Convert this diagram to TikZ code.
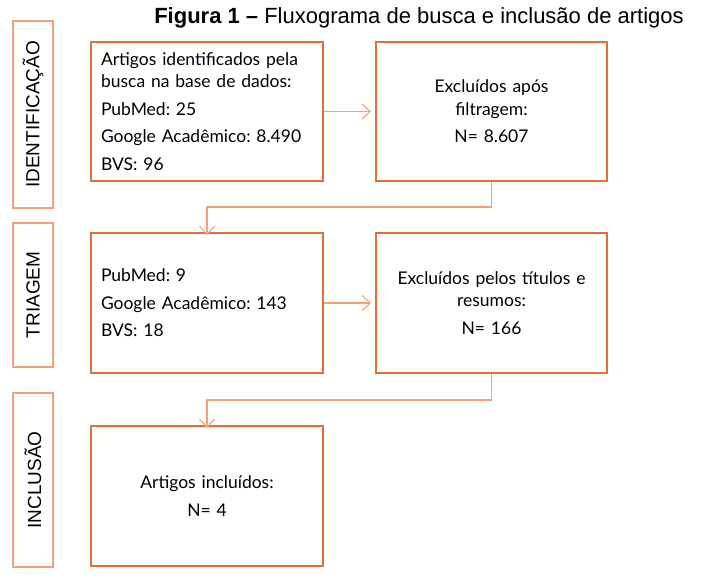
\documentclass[tikz,border=0pt]{standalone}
\usepackage{fontspec}
\setmainfont{Liberation Sans}
\newfontfamily\boxfont{Lato}
\usetikzlibrary{arrows.meta}
\definecolor{dark}{HTML}{E07035}
\definecolor{light}{HTML}{F4A07A}
\tikzset{
  mainbox/.style={draw=dark, line width=2pt, minimum width=232pt, minimum height=139pt, inner sep=0pt, font=\boxfont\frenchspacing\fontsize{17.5}{22.5}\selectfont},
  leftbox/.style={mainbox, align=left, text width=212pt},
  centerbox/.style={mainbox, align=center, text width=215pt},
  lblbox/.style={draw=light, line width=1.3pt, minimum width=40pt, inner sep=0pt},
  lbltext/.style={rotate=90, font=\fontsize{19}{22}\selectfont},
  conn/.style={draw=light, line width=1.3pt, -{Straight Barb[length=8pt,width=15pt,line width=1.1pt]}},
}
\begin{document}
\begin{tikzpicture}[x=1pt,y=-1pt]
\useasboundingbox (0,0) rectangle (703,585);
\node (title) at (419,18) {\fontsize{22}{24}\selectfont\textbf{Figura 1 –} Fluxograma de busca e inclusão de artigos};
% stage labels
\node[lblbox, minimum height=187pt] (l1) at (33,114.5) {};
\node[lbltext] (t1) at (l1.center) {IDENTIFICAÇÃO};
\node[lblbox, minimum height=144pt] (l2) at (33,295) {};
\node[lbltext] (t2) at (l2.center) {TRIAGEM};
\node[lblbox, minimum height=174pt] (l3) at (33,480) {};
\node[lbltext] (t3) at (l3.center) {INCLUSÃO};
% boxes
\node[leftbox] (b1) at (207,111.5) {Artigos identificados pela\\busca na base de dados:\\[5pt]PubMed: 25\\[5pt]Google Acadêmico: 8.490\\[5pt]BVS: 96};
\node[centerbox, minimum width=231pt] (b2) at (491.5,111.5) {Excluídos após\\filtragem:\\[5pt]N= 8.607};
\node[leftbox, minimum height=140pt] (b3) at (207,303) {PubMed: 9\\[5pt]Google Acadêmico: 143\\[5pt]BVS: 18};
\node[centerbox, minimum width=231pt, minimum height=140pt] (b4) at (491.5,303) {Excluídos pelos títulos e\\resumos:\\[5pt]N= 166};
\node[centerbox, minimum height=140pt] (b5) at (207,496) {Artigos incluídos:\\[5pt]N= 4};
% connectors
\draw[conn] (b1.east) -- ([xshift=-4pt]b2.west);
\draw[conn] (b3.east) -- ([xshift=-4pt]b4.west);
\coordinate (c1) at (491.5,207);
\coordinate (c2) at (491.5,400);
\draw[conn] (b2.south) -- (c1) -| ([yshift=-3pt]b3.north);
\draw[conn] (b4.south) -- (c2) -| ([yshift=-3pt]b5.north);
\end{tikzpicture}
\end{document}
